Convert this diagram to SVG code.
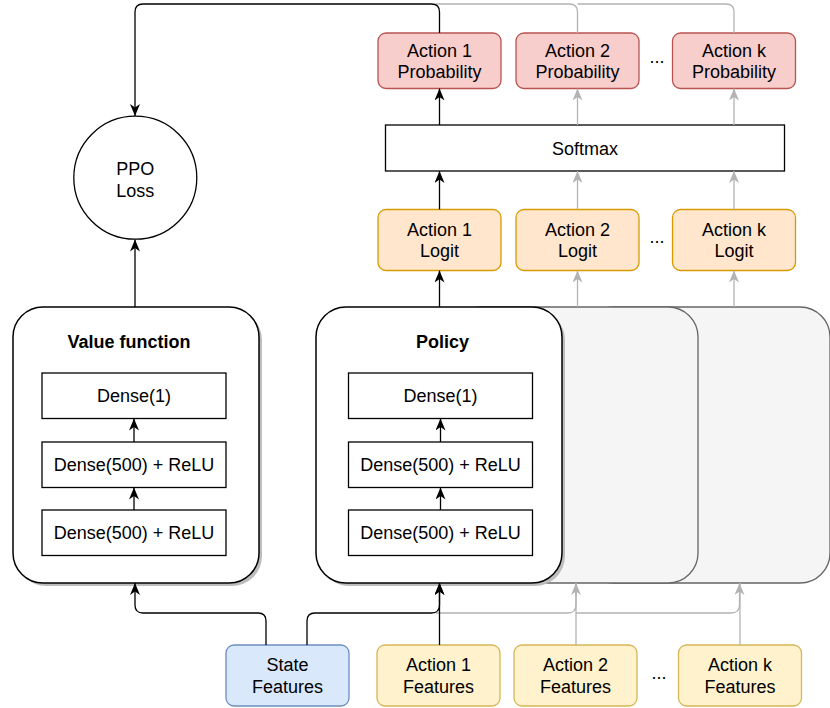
<svg xmlns="http://www.w3.org/2000/svg" width="830" height="708" viewBox="0 0 830 708">
<defs>
<marker id="ab" viewBox="0 0 12 10" refX="12" refY="5" markerWidth="12" markerHeight="10" markerUnits="userSpaceOnUse" orient="auto"><path d="M0,0 L12,5 L0,10 L3.5,5 Z" fill="#000"/></marker>
<marker id="ag" viewBox="0 0 12 10" refX="12" refY="5" markerWidth="12" markerHeight="10" markerUnits="userSpaceOnUse" orient="auto"><path d="M0,0 L12,5 L0,10 L3.5,5 Z" fill="#b3b3b3"/></marker>
</defs>
<style>
text{font-family:"Liberation Sans",Arial,Helvetica,sans-serif;font-size:18px;fill:#000;text-anchor:middle}
.t{font-weight:bold}
.big{fill:#fff;stroke:#000;stroke-width:1.5}
.shadow{fill:#bdbdbd;stroke:none}
.ghost{fill:#f5f5f5;stroke:#666;stroke-width:1.3}
.layer{fill:#fff;stroke:#000;stroke-width:1.3}
.prob{fill:#f8cecc;stroke:#b85450;stroke-width:1.3}
.logit{fill:#ffe6cc;stroke:#d79b00;stroke-width:1.3}
.state{fill:#dae8fc;stroke:#6c8ebf;stroke-width:1.3}
.feat{fill:#fff2cc;stroke:#d6b656;stroke-width:1.3}
.cb{fill:none;stroke:#000;stroke-width:1.3}
.cg{fill:none;stroke:#b3b3b3;stroke-width:1.3}
</style>

<g id="ghost-policy-k"><rect class="ghost" x="584" y="307" width="246" height="276" rx="30"/></g>
<g id="ghost-policy-2"><rect class="ghost" x="452" y="307" width="246" height="276" rx="30"/></g>

<g id="value-function">
<rect class="shadow" x="16" y="310" width="246" height="276" rx="30"/>
<rect class="big" x="13" y="307" width="246" height="276" rx="30"/>
<text class="t" x="129" y="347.5">Value function</text>
</g>
<g id="value-dense1"><rect class="layer" x="42" y="373" width="184" height="45.5"/><text x="134" y="402">Dense(1)</text></g>
<g id="value-dense500a"><rect class="layer" x="42" y="442" width="184" height="45.5"/><text x="134" y="471">Dense(500) + ReLU</text></g>
<g id="value-dense500b"><rect class="layer" x="42" y="510" width="184" height="45.5"/><text x="134" y="539">Dense(500) + ReLU</text></g>

<g id="policy">
<rect class="shadow" x="319" y="310" width="246" height="276" rx="30"/>
<rect class="big" x="316" y="307" width="246" height="276" rx="30"/>
<text class="t" x="442.5" y="347.5">Policy</text>
</g>
<g id="policy-dense1"><rect class="layer" x="348.5" y="373" width="184" height="45.5"/><text x="440.5" y="402">Dense(1)</text></g>
<g id="policy-dense500a"><rect class="layer" x="348.5" y="442" width="184" height="45.5"/><text x="440.5" y="471">Dense(500) + ReLU</text></g>
<g id="policy-dense500b"><rect class="layer" x="348.5" y="510" width="184" height="45.5"/><text x="440.5" y="539">Dense(500) + ReLU</text></g>

<g id="ppo-loss"><circle cx="135.3" cy="177.7" r="61.5" fill="#fff" stroke="#000" stroke-width="1.3"/><text x="135.3" y="175">PPO</text><text x="135.3" y="196.5">Loss</text></g>

<g id="softmax"><rect class="layer" x="385.5" y="125" width="399" height="46"/><text x="585" y="154.5">Softmax</text></g>

<g id="prob1"><rect class="prob" x="378" y="33" width="123" height="55.5" rx="8"/><text x="439.5" y="57">Action 1</text><text x="439.5" y="78">Probability</text></g>
<g id="prob2"><rect class="prob" x="516" y="33" width="123" height="55.5" rx="8"/><text x="577.5" y="57">Action 2</text><text x="577.5" y="78">Probability</text></g>
<g id="probk"><rect class="prob" x="672.5" y="33" width="123" height="55.5" rx="8"/><text x="734" y="57">Action k</text><text x="734" y="78">Probability</text></g>
<text x="657" y="62.5">...</text>

<g id="logit1"><rect class="logit" x="378" y="209.5" width="123" height="61" rx="8"/><text x="439.5" y="235.5">Action 1</text><text x="439.5" y="257">Logit</text></g>
<g id="logit2"><rect class="logit" x="516" y="209.5" width="123" height="61" rx="8"/><text x="577.5" y="235.5">Action 2</text><text x="577.5" y="257">Logit</text></g>
<g id="logitk"><rect class="logit" x="672.5" y="209.5" width="123" height="61" rx="8"/><text x="734" y="235.5">Action k</text><text x="734" y="257">Logit</text></g>
<text x="657" y="243">...</text>

<g id="state-features"><rect class="state" x="226" y="645" width="123" height="61" rx="8"/><text x="287.5" y="671">State</text><text x="287.5" y="693">Features</text></g>
<g id="feat1"><rect class="feat" x="377" y="645" width="123" height="61" rx="8"/><text x="438.5" y="671">Action 1</text><text x="438.5" y="693">Features</text></g>
<g id="feat2"><rect class="feat" x="514" y="645" width="123" height="61" rx="8"/><text x="575.5" y="671">Action 2</text><text x="575.5" y="693">Features</text></g>
<g id="featk"><rect class="feat" x="678.5" y="645" width="123" height="61" rx="8"/><text x="740" y="671">Action k</text><text x="740" y="693">Features</text></g>
<text x="659" y="678.5">...</text>

<g id="connectors">
<path class="cg" d="M577.5,33 V12 Q577.5,4 569.5,4 H436"/>
<path class="cg" d="M734,33 V12 Q734,4 726,4 H577.5"/>
<path class="cg" d="M577.5,125 V88.5" marker-end="url(#ag)"/>
<path class="cg" d="M734,125 V88.5" marker-end="url(#ag)"/>
<path class="cg" d="M577.5,209.5 V171" marker-end="url(#ag)"/>
<path class="cg" d="M734,209.5 V171" marker-end="url(#ag)"/>
<path class="cg" d="M577.5,307 V270.5" marker-end="url(#ag)"/>
<path class="cg" d="M734,307 V270.5" marker-end="url(#ag)"/>
<path class="cg" d="M436,613 H568 Q576,613 576,605 V583" marker-end="url(#ag)"/>
<path class="cg" d="M576,613 H731 Q739.5,613 739.5,605 V583" marker-end="url(#ag)"/>
<path class="cg" d="M576,645 V583"/>
<path class="cg" d="M740,645 V583"/>

<path class="cb" d="M439.5,33 V12 Q439.5,4 431.5,4 H143 Q135,4 135,12 V116" marker-end="url(#ab)"/>
<path class="cb" d="M135,307 V239.5" marker-end="url(#ab)"/>
<path class="cb" d="M439.5,125 V88.5" marker-end="url(#ab)"/>
<path class="cb" d="M439.5,209.5 V171" marker-end="url(#ab)"/>
<path class="cb" d="M439.5,307 V270.5" marker-end="url(#ab)"/>
<path class="cb" d="M134,442 V418.5" marker-end="url(#ab)"/>
<path class="cb" d="M134,510 V487.5" marker-end="url(#ab)"/>
<path class="cb" d="M440.5,442 V418.5" marker-end="url(#ab)"/>
<path class="cb" d="M440.5,510 V487.5" marker-end="url(#ab)"/>
<path class="cb" d="M266,645 V621 Q266,613 258,613 H143 Q135,613 135,605 V583" marker-end="url(#ab)"/>
<path class="cb" d="M307,645 V621 Q307,613 315,613 H431.5 Q439.5,613 439.5,605 V583" marker-end="url(#ab)"/>
<path class="cb" d="M439.5,645 V583" marker-end="url(#ab)"/>
</g>
</svg>
